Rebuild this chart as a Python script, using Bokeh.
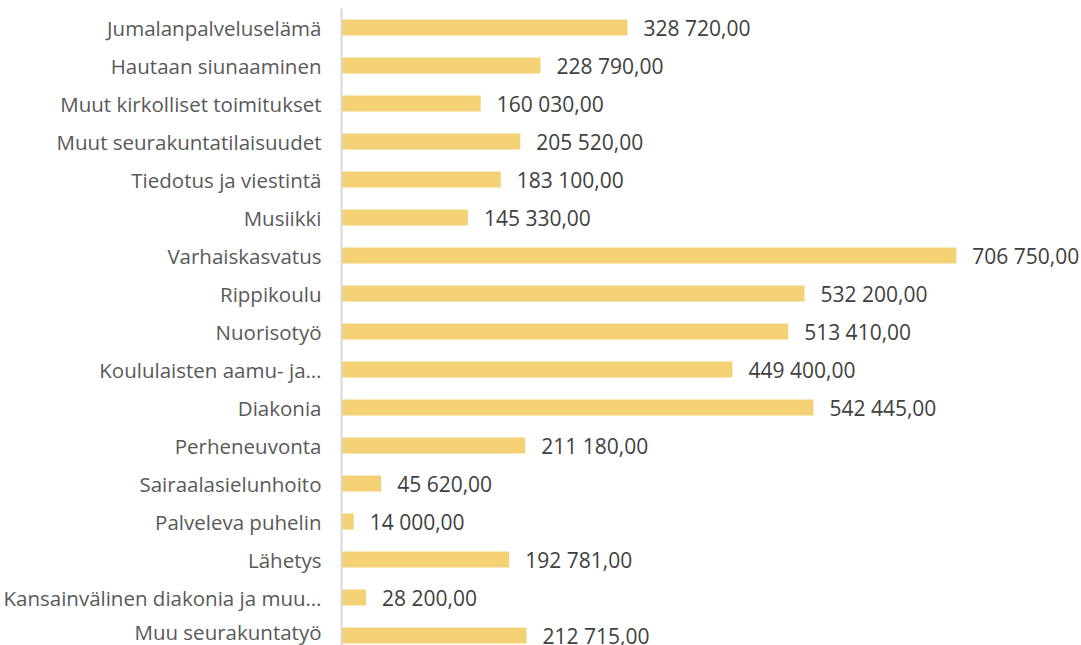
from bokeh.plotting import figure
from bokeh.models import Range1d, FixedTicker, ColumnDataSource
from bokeh.core.properties import value
from bokeh.embed import file_html
from bokeh.resources import INLINE

categories = [
    "Jumalanpalveluselämä",
    "Hautaan siunaaminen",
    "Muut kirkolliset toimitukset",
    "Muut seurakuntatilaisuudet",
    "Tiedotus ja viestintä",
    "Musiikki",
    "Varhaiskasvatus",
    "Rippikoulu",
    "Nuorisotyö",
    "Koululaisten aamu- ja…",
    "Diakonia",
    "Perheneuvonta",
    "Sairaalasielunhoito",
    "Palveleva puhelin",
    "Lähetys",
    "Kansainvälinen diakonia ja muu…",
    "Muu seurakuntatyö",
]
values = [328720, 228790, 160030, 205520, 183100, 145330, 706750, 532200,
          513410, 449400, 542445, 211180, 45620, 14000, 192781, 28200, 212715]

n = len(categories)
ypos = [n - 1 - i for i in range(n)]

def fmt(v):
    return f"{v:,.2f}".replace(",", " ").replace(".", ",")

src = ColumnDataSource(dict(y=ypos, v=values, lab=[fmt(v) for v in values]))

FONT = "Open Sans"

p = figure(width=1080, height=645, output_backend="svg", toolbar_location=None,
           x_range=Range1d(0, 849470), y_range=Range1d(-0.263, n - 0.5),
           min_border_left=341, min_border_right=0, min_border_top=8, min_border_bottom=0)
p.outline_line_color = None
p.xaxis.visible = False
p.xgrid.visible = False
p.ygrid.visible = False

p.hbar(y="y", right="v", left=0, height=0.42, source=src,
       fill_color="#F5D176", line_color=None)

p.text(x="v", y="y", text="lab", source=src, x_offset=16,
       text_baseline="middle", text_align="left",
       text_font=value(FONT), text_font_size="21px", text_color="#404040")

ax = p.yaxis[0]
ax.ticker = FixedTicker(ticks=ypos)
ax.major_label_overrides = {y: c for y, c in zip(ypos, categories)}
ax.major_tick_line_color = None
ax.minor_tick_line_color = None
ax.major_tick_out = 0
ax.major_tick_in = 0
ax.major_label_standoff = 20
ax.axis_line_color = "#D9D9D9"
ax.axis_line_width = 2
ax.major_label_text_font = FONT
ax.major_label_text_font_size = "20.5px"
ax.major_label_text_color = "#595959"

open("out.html", "w").write(file_html(p, INLINE))
